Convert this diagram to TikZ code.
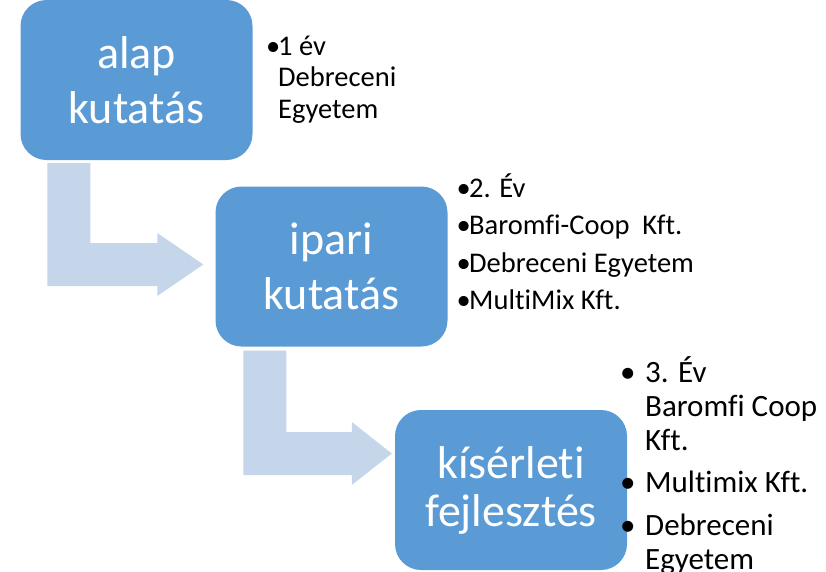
\documentclass[tikz,border=0pt]{standalone}
\usepackage{fontspec}
\setmainfont[Ligatures=NoCommon]{Carlito}
\usetikzlibrary{calc}
\definecolor{boxblue}{HTML}{5B9BD5}
\definecolor{arrowblue}{HTML}{C5D5EA}
\tikzset{
  stage/.style={fill=boxblue, rounded corners=26pt, minimum width=232pt,
    minimum height=160pt, text=white, align=center, inner sep=0pt,
    font=\fontsize{46}{55}\selectfont},
  arrowfill/.style={fill=arrowblue},
  listtext/.style={inner sep=0pt, text=black, anchor=base west}
}
% #1 top-left of vertical bar, #2 tip, #3 head length
\newcommand\bentarrow[3]{%
  \fill[arrowfill] let \p1=(#1), \p2=(#2) in
    (\x1,\y1) -- (\x1+43pt,\y1) -- (\x1+43pt,\y2+21.5pt)
    -- (\x2-#3,\y2+21.5pt) -- (\x2-#3,\y2+31.5pt) -- (\x2,\y2)
    -- (\x2-#3,\y2-31.5pt) -- (\x2-#3,\y2-21.5pt) -- (\x1,\y2-21.5pt) -- cycle;}
\begin{document}
\begin{tikzpicture}[x=1pt,y=-1pt]
\useasboundingbox (0,0) rectangle (826,571);
\node[stage] (b1) at (136.5,80) {alap\\kutatás};
\node[stage] (b2) at (331.5,266.5) {ipari\\kutatás};
\node[stage, font=\fontsize{46}{48}\selectfont] (b3) at (511,490) {kísérleti\\fejlesztés};

\bentarrow{$(b1.south west)+(27,3)$}{$(b2.west)+(-12,-2)$}{46pt}
\bentarrow{$(b2.south west)+(28,4)$}{$(b3.west)+(-3,-36.5)$}{40pt}

\node[listtext] (l1) at (266,55) {\parbox[t]{200pt}{\fontsize{28.5}{31.5}\selectfont
  \makebox[12pt][l]{•}1 év\\
  \hspace*{12pt}Debreceni\\
  \hspace*{12pt}Egyetem}};
\node[listtext] (l2) at (456.5,197) {\parbox[t]{300pt}{\fontsize{28.5}{37.5}\selectfont
  \makebox[12.5pt][l]{•}2. Év\\
  \makebox[12.5pt][l]{•}Baromfi-Coop\ \ Kft.\\
  \makebox[12.5pt][l]{•}Debreceni Egyetem\\
  \makebox[12.5pt][l]{•}MultiMix Kft.}};
\node[listtext] (l3) at (620,382) {\parbox[t]{250pt}{\fontsize{31}{34}\selectfont
  \makebox[25pt][l]{•}3. Év\\
  \hspace*{25pt}Baromfi Coop\\
  \hspace*{25pt}Kft.\\[8pt]
  \makebox[25pt][l]{•}Multimix Kft.\\[9pt]
  \makebox[25pt][l]{•}Debreceni\\
  \hspace*{25pt}Egyetem}};
\end{tikzpicture}
\end{document}
